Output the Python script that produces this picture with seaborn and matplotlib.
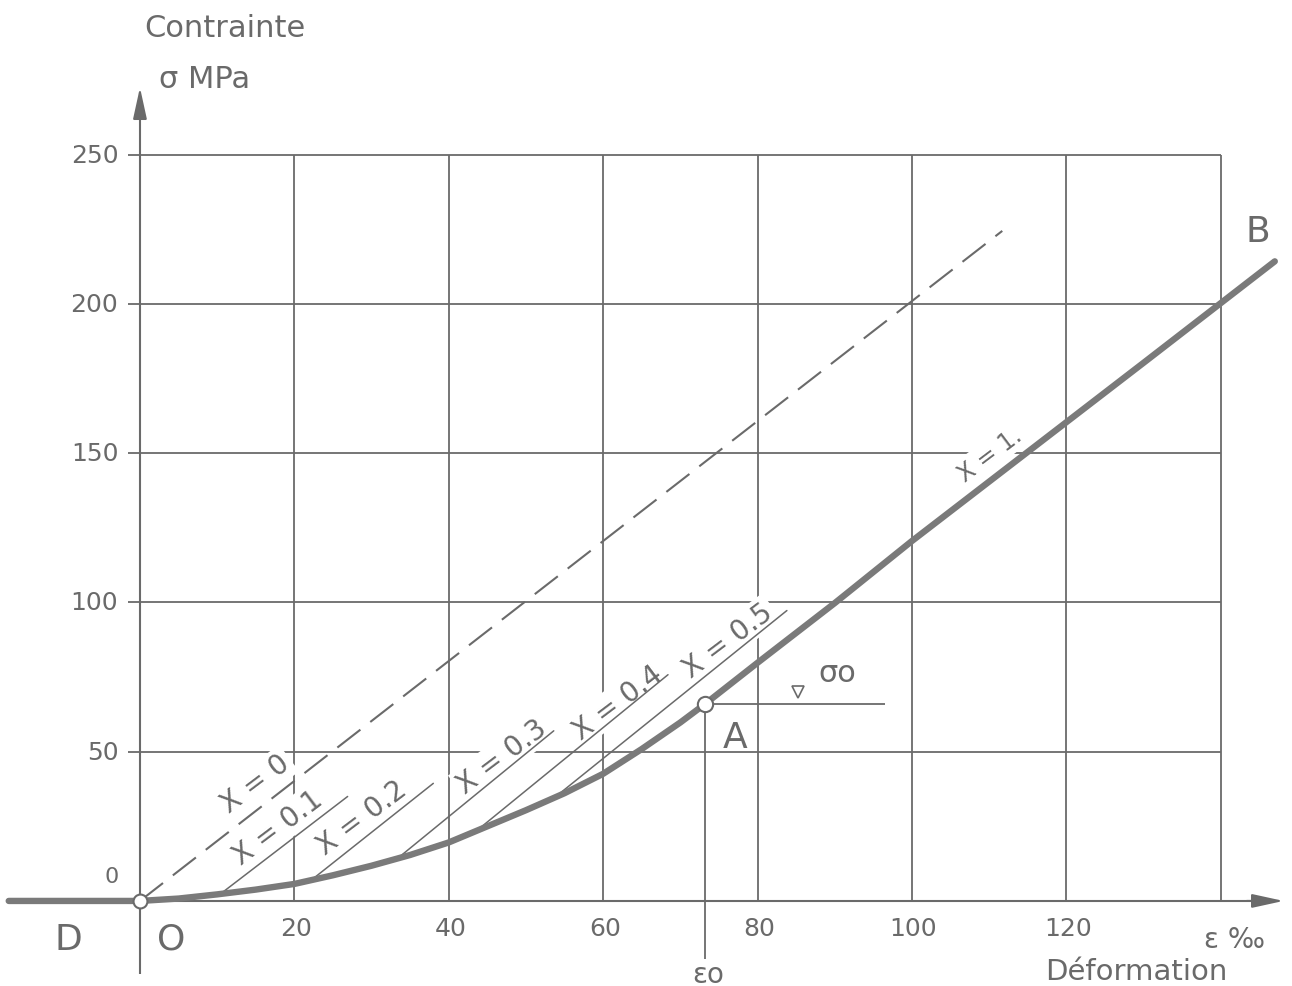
import numpy as np
import pandas as pd
import seaborn as sns
import matplotlib
matplotlib.use("Agg")
import matplotlib.pyplot as plt

# ---------------- data ----------------
curve_eps = [-17, 0, 5, 10, 15, 20, 25, 30, 35, 40, 45, 50, 55, 60, 65, 70, 73.2,
             80, 90, 100, 110, 120, 130, 140, 147.0]
curve_sig = [0, 0, 0.8, 2.2, 3.8, 5.7, 8.6, 11.8, 15.4, 19.6, 25.0, 30.4, 36.1,
             42.6, 50.9, 59.8, 66.0, 79.8, 99.8, 120.6, 140.5, 160.4, 180.3,
             200.3, 214.3]

iso_labels = ["X = 0.1", "X = 0.2", "X = 0.3", "X = 0.4", "X = 0.5"]
iso_x0 = [10.4, 22.4, 33.3, 43.6, 53.5]
iso_y0 = [2.3, 7.4, 14.1, 23.5, 34.2]
iso_x1 = [26.9, 38.0, 53.6, 68.4, 83.8]
iso_y1 = [35.0, 39.4, 57.0, 75.8, 97.3]

dash_x = [0, 111.7]
dash_y = [0, 224.5]

x_ticks = [20, 40, 60, 80, 100, 120]
y_ticks = [50, 100, 150, 200, 250]
grid_x = [20, 40, 60, 80, 100, 120, 140]
grid_y = [50, 100, 150, 200, 250]

eps0 = 73.2
sig0 = 66.0

# ---------------- style ----------------
sns.set_theme(style="white")
plt.rcParams['font.family'] = ['DejaVu Sans']
INK = "#6a6a6a"

fig = plt.figure(figsize=(12.92, 9.87), dpi=100)
ax = fig.add_axes([0, 0, 1, 1])
ax.set_xlim(-18.13, 149.23)
ax.set_ylim(-28.5, 302.2)
ax.axis("off")

# grid
for gx in grid_x:
    ax.vlines(gx, 0, 250, color=INK, lw=1.3, zorder=1)
for gy in grid_y:
    ax.hlines(gy, -1.6, 140, color=INK, lw=1.3, zorder=1)

# axes with arrows
ax.vlines(0, -24.5, 265, color=INK, lw=1.5, zorder=1)
ax.annotate("", xy=(0, 273.5), xytext=(0, 262),
            arrowprops=dict(arrowstyle="-|>,head_length=1.6,head_width=0.35",
                            color=INK, lw=1.5), zorder=1)
ax.hlines(0, -16.8, 144, color=INK, lw=1.5, zorder=1)
ax.annotate("", xy=(148.5, 0), xytext=(143, 0),
            arrowprops=dict(arrowstyle="-|>,head_length=1.6,head_width=0.35",
                            color=INK, lw=1.5), zorder=1)

# dashed X=0 line
sns.lineplot(x=dash_x, y=dash_y, ax=ax, color=INK, lw=1.5, zorder=3, sort=False)
ax.lines[-1].set_dashes((14, 6))

# iso lines
for i in range(len(iso_labels)):
    sns.lineplot(x=[iso_x0[i], iso_x1[i]], y=[iso_y0[i], iso_y1[i]], ax=ax,
                 color=INK, lw=1.1, zorder=3, sort=False)

# main curve
df = pd.DataFrame({"eps": curve_eps, "sig": curve_sig})
sns.lineplot(data=df, x="eps", y="sig", ax=ax, color="#7a7a7a", lw=4.6,
             zorder=4, sort=False, solid_capstyle="round", solid_joinstyle="round")

# eps0 / sigma0 construction lines
ax.vlines(eps0, -19.5, sig0, color=INK, lw=1.3, zorder=3)
ax.hlines(sig0, eps0, 96.5, color=INK, lw=1.3, zorder=3)

# markers
ax.plot([0], [0], marker="o", ms=10, mfc="white", mec=INK, mew=1.5, zorder=6)
ax.plot([eps0], [sig0], marker="o", ms=11, mfc="white", mec=INK, mew=1.5, zorder=6)
ax.plot([85.2], [70.0], marker="v", ms=8, mfc="white", mec=INK, mew=1.2, zorder=6)

# labels along lines
box = dict(boxstyle="square,pad=0.1", fc="white", ec="none")
lbl_kw = dict(color=INK, fontsize=20, rotation=37,
              rotation_mode="anchor", ha="center", va="center", zorder=2, bbox=box)
ax.text(15.0, 39.5, "X = 0", **lbl_kw)
iso_lx = [17.9, 28.8, 46.9, 61.9, 76.2]
iso_ly = [24.8, 28.0, 48.6, 66.7, 87.5]
for i, lab in enumerate(iso_labels):
    ax.text(iso_lx[i], iso_ly[i], lab, **lbl_kw)
ax.text(110.1, 149.7, "X = 1.", **{**lbl_kw, "fontsize": 17})

big = dict(color=INK, ha="center", va="center")
ax.text(144.8, 224.5, "B", fontsize=26, **big)
ax.text(77.1, 54.9, "A", fontsize=26, **big)
ax.text(-9.3, -12.7, "D", fontsize=26, **big)
ax.text(4.1, -12.7, "O", fontsize=26, **big)
ax.text(90.3, 76.7, "σo", fontsize=22, **big)
ax.text(73.6, -24.5, "εo", fontsize=20, **big)

# tick labels
for xt in x_ticks:
    ax.text(xt + 0.2, -9.0, str(xt), fontsize=18, **big)
for yt in y_ticks:
    ax.text(-2.8, yt, str(yt), fontsize=18, color=INK, ha="right", va="center")
ax.text(-2.8, 8.4, "0", fontsize=16, color=INK, ha="right", va="center")

# axis titles
ax.text(11.0, 292.8, "Contrainte", fontsize=22, **big)
ax.text(8.4, 275.4, "σ MPa", fontsize=22, **big)
ax.text(141.8, -12.7, "ε ‰", fontsize=20, **big)
ax.text(129.0, -23.5, "Déformation", fontsize=21, **big)

fig.savefig("out.png", dpi=100, facecolor="white")
